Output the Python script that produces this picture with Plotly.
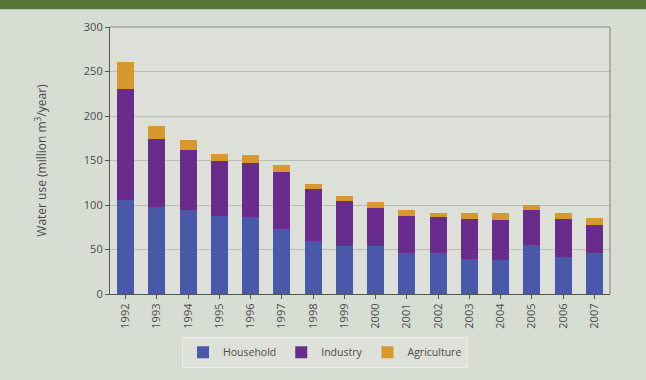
import plotly.graph_objects as go

years = ["1992", "1993", "1994", "1995", "1996", "1997", "1998", "1999",
         "2000", "2001", "2002", "2003", "2004", "2005", "2006", "2007"]
household = [106, 98, 94, 88, 86, 73, 59, 54, 54, 46, 46, 39, 38, 55, 42, 46]
industry = [124, 76, 68, 62, 61, 64, 59, 50, 43, 42, 40, 45, 45, 39, 42, 31]
agriculture = [31, 15, 11, 7, 9, 8, 6, 6, 6, 6, 5, 7, 8, 6, 7, 8]

BG = "#d8ddd3"
W, H = 646, 380
L, R, T, B = 110, 36, 27, 82
pw, ph = W - L - R, H - T - B


def px_x(p):
    return (p - L) / pw


def px_y(p):
    return (H - B - p) / ph


fig = go.Figure()
fig.add_bar(x=years, y=household, name="Household", marker_color="#4a58aa",
            marker_line_width=0)
fig.add_bar(x=years, y=industry, name="Industry", marker_color="#6a2c8c",
            marker_line_width=0)
fig.add_bar(x=years, y=agriculture, name="Agriculture", marker_color="#d8982e",
            marker_line_width=0)

shapes = [
    # header band
    dict(type="rect", xref="paper", yref="paper",
         x0=px_x(0), x1=px_x(W), y0=px_y(9), y1=px_y(-2),
         fillcolor="#567539", line_width=0, layer="above"),
    # frame top and right
    dict(type="line", xref="paper", yref="paper", x0=0, x1=1, y0=1, y1=1,
         line=dict(color="#8a8e88", width=1.2)),
    dict(type="line", xref="paper", yref="paper", x0=1, x1=1, y0=0, y1=1,
         line=dict(color="#8a8e88", width=1.2)),
]

fig.update_layout(
    width=W, height=H,
    margin=dict(l=L, r=R, t=T, b=B),
    barmode="stack",
    bargap=0.45,
    paper_bgcolor=BG,
    plot_bgcolor="#dce0d8",
    font=dict(family="Open Sans, DejaVu Sans, sans-serif", size=11, color="#4a4a4a"),
    shapes=shapes,
    showlegend=True,
    legend=dict(orientation="h", x=0.43, xanchor="center", y=px_y(357), yanchor="middle",
                bgcolor="#dde1d9", bordercolor="#eceee8", borderwidth=1,
                font=dict(size=10.5, color="#4a4a4a"), itemwidth=30,
                traceorder="normal"),
    xaxis=dict(
        tickangle=-90, showgrid=False, ticks="outside", ticklen=4,
        tickcolor="#555", showline=True, linecolor="#555", linewidth=1.2,
        tickfont=dict(size=11, color="#4a4a4a"),
    ),
    yaxis=dict(
        range=[0, 300], dtick=50, ticks="outside", ticklen=4, tickcolor="#555",
        showline=True, linecolor="#555", linewidth=1.2,
        gridcolor="#b9bdb5", gridwidth=1, zeroline=False,
        tickfont=dict(size=11, color="#4a4a4a"),
        title=dict(text="Water use (million m<sup>3</sup>/year)",
                   font=dict(size=12, color="#4a4a4a"), standoff=34),
    ),
)

fig.write_html("out.html")
